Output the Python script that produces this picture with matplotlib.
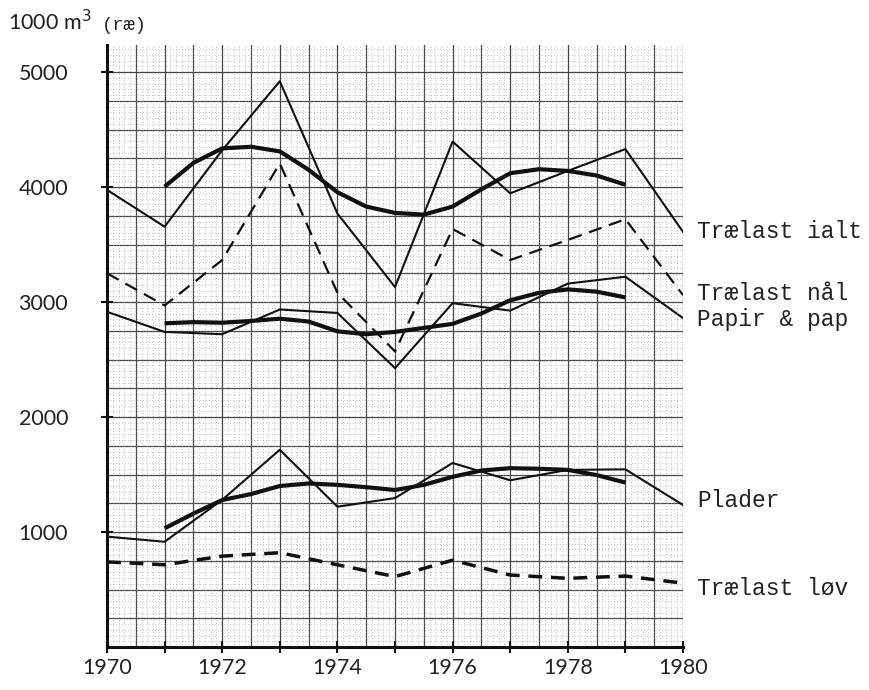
import numpy as np
from matplotlib import pyplot as plt
from matplotlib.ticker import MultipleLocator

# yearly figures, 1000 m3 (r.e.)
years = [1970, 1971, 1972, 1973, 1974, 1975, 1976, 1977, 1978, 1979, 1980]
ialt = [3975, 3655, 4320, 4920, 3770, 3130, 4395, 3945, 4140, 4330, 3610]
naal = [3250, 2970, 3365, 4205, 3080, 2570, 3635, 3365, 3540, 3720, 3060]
papir = [2915, 2740, 2720, 2935, 2905, 2425, 2990, 2925, 3160, 3220, 2860]
plader = [960, 915, 1280, 1715, 1220, 1295, 1600, 1450, 1540, 1545, 1235]
loev = [740, 715, 790, 820, 715, 612, 755, 626, 597, 617, 555]

# smoothed trend curves, read at half-year steps 1971-1979
trend_years = [1971, 1971.5, 1972, 1972.5, 1973, 1973.5, 1974, 1974.5, 1975,
               1975.5, 1976, 1976.5, 1977, 1977.5, 1978, 1978.5, 1979]
ialt_trend = [4003, 4210, 4336, 4350, 4310, 4150, 3955, 3830, 3775,
              3760, 3830, 3980, 4120, 4155, 4140, 4100, 4020]
papir_trend = [2815, 2825, 2820, 2835, 2855, 2830, 2745, 2720, 2740,
               2775, 2810, 2900, 3015, 3080, 3110, 3090, 3040]
plader_trend = [1032, 1160, 1278, 1330, 1400, 1422, 1410, 1390, 1365,
                1410, 1480, 1535, 1555, 1550, 1540, 1495, 1430]

labels = ["Trælast ialt", "Trælast nål", "Papir & pap", "Plader", "Trælast løv"]
label_y = [3610, 3070, 2845, 1270, 505]

ink = "#111111"
num_font = {"family": "Lato", "size": 15.5, "color": "#222222"}


def main():
    fig = plt.figure(figsize=(8.69, 6.90), dpi=100)
    ax = fig.add_axes([107 / 869, 43 / 690, 576 / 869, 602 / 690])

    ax.set_xlim(1970, 1980)
    ax.set_ylim(0, 5235)

    # graph paper: solid lines every half year / 250, dots every 0.1 year / 50
    ax.xaxis.set_minor_locator(MultipleLocator(0.1))
    ax.yaxis.set_minor_locator(MultipleLocator(50))
    for x in np.arange(1970.5, 1980.01, 0.5):
        ax.axvline(x, color="#444444", lw=0.9, zorder=1)
    for y in np.arange(250, 5001, 250):
        ax.axhline(y, color="#444444", lw=0.9, zorder=1)
    ax.grid(which="minor", axis="both", color="#888888", lw=0.6,
            linestyle=(0, (0.7, 2.9)), zorder=0)

    # raw series
    ax.plot(years, ialt, color=ink, lw=1.5, zorder=3)
    ax.plot(years, naal, color=ink, lw=1.6, dashes=(6, 3.5), zorder=3)
    ax.plot(years, papir, color=ink, lw=1.5, zorder=3)
    ax.plot(years, plader, color=ink, lw=1.5, zorder=3)
    ax.plot(years, loev, color=ink, lw=2.5, dashes=(4, 2.5), zorder=3)

    # trends
    for t in (ialt_trend, papir_trend, plader_trend):
        ax.plot(trend_years, t, color=ink, lw=3.0, solid_joinstyle="round",
                solid_capstyle="butt", zorder=4)

    for txt, y in zip(labels, label_y):
        ax.text(1980.25, y, txt, family="Liberation Mono", fontsize=16.5,
                va="center", ha="left", color="#222222")

    ax.set_xticks(range(1970, 1981))
    ax.set_xticklabels([str(y) if y % 2 == 0 else "" for y in range(1970, 1981)],
                       fontdict=num_font)
    ax.set_yticks([1000, 2000, 3000, 4000, 5000])
    ax.set_yticklabels(["1000", "2000", "3000", "4000", "5000"], fontdict=num_font)
    ax.tick_params(axis="x", direction="inout", length=8, width=1.5, pad=4,
                   color=ink)
    ax.tick_params(axis="y", direction="inout", length=8, width=1.5, pad=24,
                   color=ink)
    ax.tick_params(which="minor", length=0)

    for side in ("top", "right"):
        ax.spines[side].set_visible(False)
    for side in ("left", "bottom"):
        ax.spines[side].set_linewidth(2.2)
        ax.spines[side].set_color(ink)

    fig.text(8 / 869, 1 - 30 / 690, "1000 m$^3$", fontdict=num_font,
             va="baseline")
    fig.text(102 / 869, 1 - 30 / 690, "(ræ)", family="Liberation Mono",
             fontsize=13.5, va="baseline", color="#222222")

    plt.savefig("out.png")


if __name__ == "__main__":
    main()
